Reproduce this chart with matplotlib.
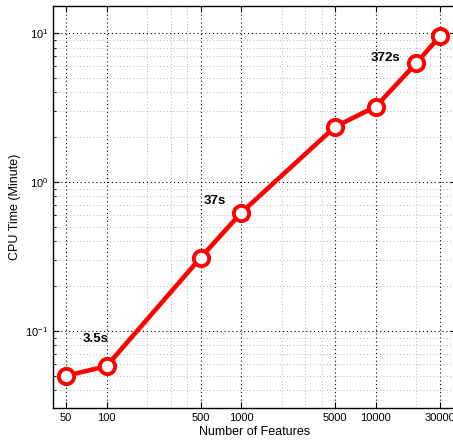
import matplotlib
matplotlib.use("Agg")
import matplotlib.pyplot as plt
from matplotlib.ticker import FixedLocator, LogLocator, NullFormatter, FixedFormatter

plt.rcParams['font.family'] = ['Liberation Sans', 'DejaVu Sans']

features = [50, 100, 500, 1000, 5000, 10000, 20000, 30000]
cpu_minutes = [0.050, 0.058, 0.31, 0.62, 2.35, 3.2, 6.25, 9.5]
xtick_vals = [50, 100, 500, 1000, 5000, 10000, 30000]
xtick_labels = ['50', '100', '500', '1000', '5000', '10000', '30000']
x_minor = [200, 300, 400, 2000, 3000, 4000, 20000]
annotations = [('3.5s', 66, 0.088), ('37s', 525, 0.74), ('372s', 9270, 6.8)]

fig = plt.figure(figsize=(4.53, 4.43), dpi=100)
ax = fig.add_axes([0.117, 0.079, 0.8907, 0.9075])
ax.set_xscale('log')
ax.set_yscale('log')
ax.set_xlim(40, 40000)
ax.set_ylim(0.0304, 15.2)

ax.plot(features, cpu_minutes, color='#ff0000', lw=3.3, marker='o', ms=11,
        mfc='white', mec='#ff0000', mew=2.8, zorder=5)

for txt, x, y in annotations:
    ax.text(x, y, txt, fontsize=9.5, fontweight='bold', ha='left', va='center', zorder=6)

ax.xaxis.set_major_locator(FixedLocator(xtick_vals))
ax.xaxis.set_major_formatter(FixedFormatter(xtick_labels))
ax.xaxis.set_minor_locator(FixedLocator(x_minor))
ax.xaxis.set_minor_formatter(NullFormatter())
ax.yaxis.set_major_locator(LogLocator(base=10, numticks=10))
ax.yaxis.set_minor_locator(LogLocator(base=10, subs=[2, 3, 4, 5, 6, 7, 8, 9], numticks=20))
ax.yaxis.set_minor_formatter(NullFormatter())

ax.grid(True, which='major', color='black', linestyle=(0, (1, 2.5)), linewidth=0.8)
ax.grid(True, which='minor', color='#999999', linestyle=(0, (1, 3)), linewidth=0.6)
ax.set_axisbelow(True)

ax.tick_params(which='both', direction='in', top=True, right=True, labelsize=8)
ax.tick_params(which='major', length=4, width=0.8)
ax.tick_params(which='minor', length=2, width=0.6)
ax.tick_params(axis='x', which='minor', length=0)
for s in ax.spines.values():
    s.set_linewidth(1.0)

ax.set_xlabel('Number of Features', fontsize=9, labelpad=2)
ax.set_ylabel('CPU Time (Minute)', fontsize=9, labelpad=3)

fig.savefig('out.png', dpi=100)
